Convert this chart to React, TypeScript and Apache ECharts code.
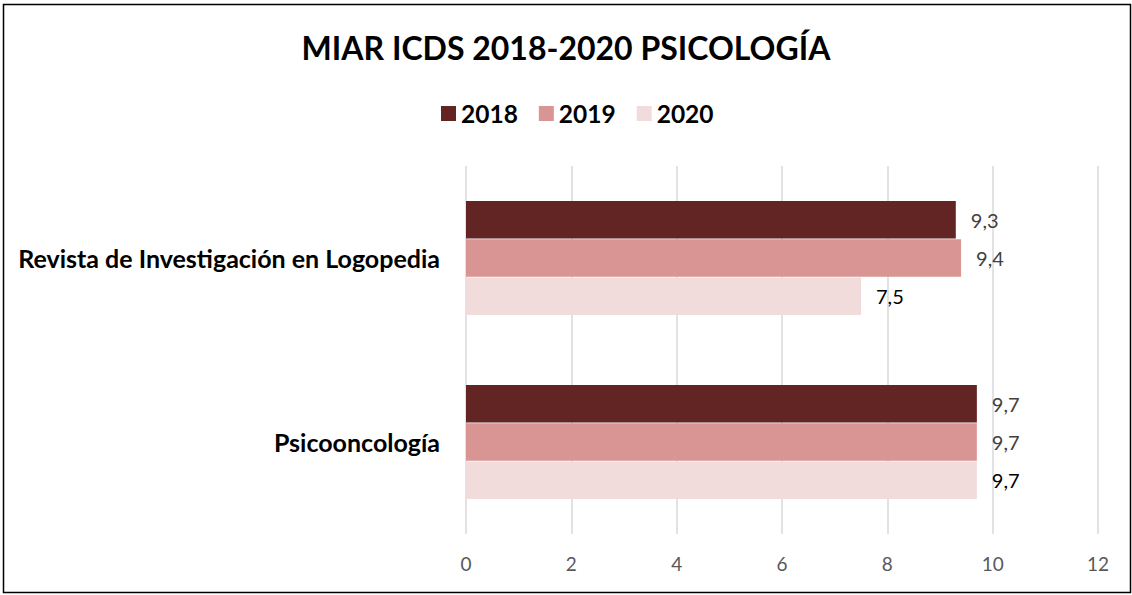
import React, { useEffect, useRef } from "react";
import * as echarts from "echarts";

const categories = ["Revista de Investigación en Logopedia", "Psicooncología"];
const seriesNames = ["2018", "2019", "2020"];
const values2018 = [9.3, 9.7];
const values2019 = [9.4, 9.7];
const values2020 = [7.5, 9.7];
const colors = ["#632523", "#d99594", "#f2dcdb"];
const labelColors = ["#404040", "#404040", "#000000"];
const xTicks = { min: 0, max: 12, interval: 2 };

const FONT = "Lato, 'Open Sans', sans-serif";

export default function App() {
  const ref = useRef<HTMLDivElement>(null);
  useEffect(() => {
    const chart = echarts.init(ref.current!, null, { renderer: "svg" });
    const allValues = [values2018, values2019, values2020];
    chart.setOption({
      animation: false,
      backgroundColor: "#ffffff",
      textStyle: { fontFamily: FONT },
      title: {
        text: "MIAR ICDS 2018-2020 PSICOLOGÍA",
        left: "center",
        top: 26,
        textStyle: { fontFamily: FONT, fontWeight: "bold", fontSize: 32, color: "#000" },
      },
      legend: {
        top: 96,
        left: 436,
        itemWidth: 15,
        itemHeight: 15,
        itemGap: 21,
        icon: "rect",
        data: seriesNames,
        textStyle: { fontFamily: FONT, fontWeight: "bold", fontSize: 24.5, color: "#000" },
      },
      graphic: [
        {
          type: "rect",
          shape: { x: 3.5, y: 4.5, width: 1127, height: 588 },
          style: { fill: "none", stroke: "#000", lineWidth: 1.5 },
          z: 100,
        },
      ],
      grid: { left: 466, right: 34, top: 166, bottom: 61, containLabel: false },
      xAxis: {
        type: "value",
        min: xTicks.min,
        max: xTicks.max,
        interval: xTicks.interval,
        axisLine: { show: false },
        axisTick: { show: false },
        axisLabel: { color: "#595959", fontSize: 19, margin: 20, fontFamily: FONT },
        splitLine: { show: true, lineStyle: { color: "#d9d9d9", width: 1.5 } },
      },
      yAxis: {
        type: "category",
        inverse: true,
        data: categories,
        axisLine: { show: false },
        axisTick: { show: false },
        axisLabel: { color: "#000", fontSize: 25, fontWeight: "bold", margin: 26, fontFamily: FONT },
      },
      series: seriesNames.map((name, i) => ({
        name,
        type: "bar",
        data: allValues[i],
        barWidth: 37.5,
        barGap: "2%",
        itemStyle: { color: colors[i] },
        label: {
          show: true,
          position: "right",
          distance: 15,
          color: labelColors[i],
          fontSize: 20,
          fontFamily: FONT,
          formatter: (p: any) => String(p.value).replace(".", ","),
        },
      })),
    });
    return () => chart.dispose();
  }, []);
  return (
    <div
      ref={ref}
      style={{ position: "fixed", left: 0, top: 0, width: 1132, height: 595 }}
    />
  );
}
